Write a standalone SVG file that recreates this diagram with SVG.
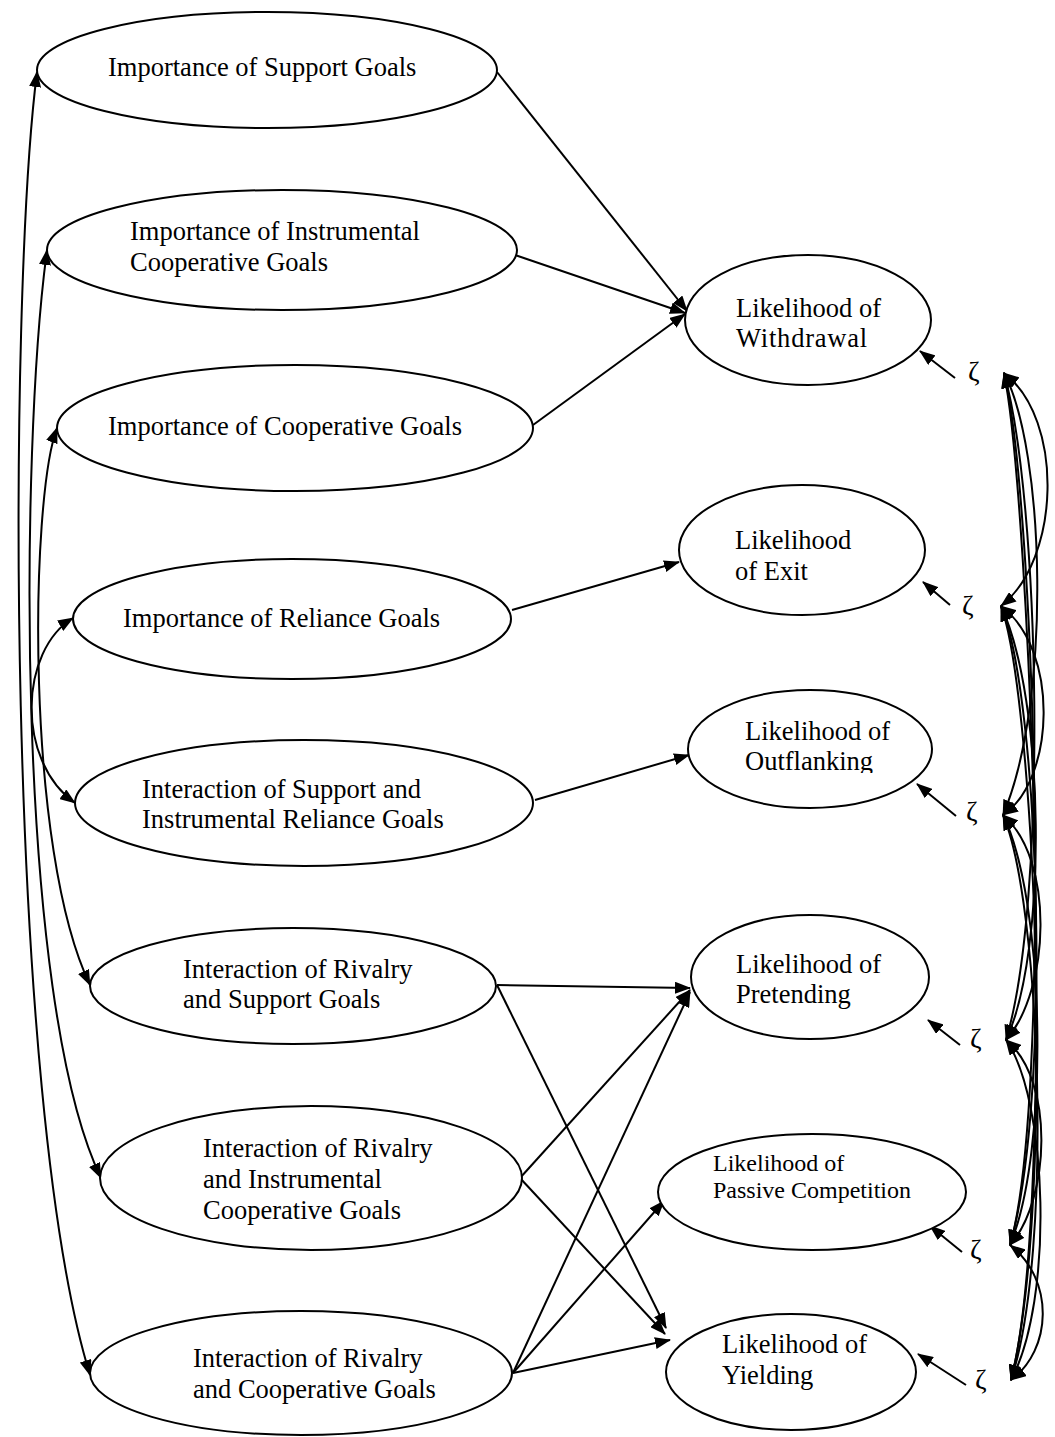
<svg xmlns="http://www.w3.org/2000/svg" width="1055" height="1437" viewBox="0 0 1055 1437">
<style>
.n{fill:#fff;stroke:#000;stroke-width:2}
.t{font-family:"Liberation Serif","Times New Roman",serif;font-size:26.5px;fill:#000}
.ts{font-family:"Liberation Serif","Times New Roman",serif;font-size:24px;fill:#000}
.z{font-family:"Liberation Serif","DejaVu Serif",serif;font-size:28px;fill:#000}
.c{fill:none;stroke:#000;stroke-width:2}
.a{marker-end:url(#ah)}
.d{marker-start:url(#ah);marker-end:url(#ah)}
</style>
<defs>
<marker id="ah" viewBox="0 0 16 12" refX="15" refY="6" markerWidth="16" markerHeight="12" markerUnits="userSpaceOnUse" orient="auto-start-reverse">
<path d="M0,0 L16,6 L0,12 z" fill="#000"/>
</marker>
<clipPath id="cpO"><rect x="700" y="700" width="220" height="73"/></clipPath>
<clipPath id="cpP"><rect x="700" y="930" width="220" height="79"/></clipPath>
</defs>
<g id="connectors">
<!-- left covariances -->
<path class="c d" d="M37,72 C8,300 5,1100 90,1375"/>
<path class="c d" d="M47,250 C20,450 15,1000 101,1178"/>
<path class="c d" d="M57,428 C30,500 25,850 90,985"/>
<path class="c d" d="M73,618 C20,650 15,760 75,803"/>
<!-- paths -->
<line class="c a" x1="497" y1="72" x2="687" y2="311"/>
<line class="c a" x1="515" y1="255" x2="685" y2="313"/>
<line class="c a" x1="533" y1="425" x2="685" y2="314"/>
<line class="c a" x1="512" y1="610" x2="679" y2="562"/>
<line class="c a" x1="535" y1="800" x2="689" y2="755"/>
<line class="c a" x1="497" y1="985" x2="690" y2="988"/>
<line class="c a" x1="497" y1="985" x2="666" y2="1328"/>
<line class="c a" x1="520" y1="1178" x2="690" y2="990"/>
<line class="c a" x1="520" y1="1178" x2="665" y2="1334"/>
<line class="c a" x1="513" y1="1373" x2="690" y2="992"/>
<line class="c a" x1="513" y1="1373" x2="664" y2="1201"/>
<line class="c a" x1="513" y1="1373" x2="670" y2="1340"/>
<!-- disturbances -->
<line class="c a" x1="955" y1="378" x2="920" y2="351"/>
<line class="c a" x1="950" y1="605" x2="923" y2="582"/>
<line class="c a" x1="956" y1="816" x2="917" y2="784"/>
<line class="c a" x1="960" y1="1045" x2="928" y2="1020"/>
<line class="c a" x1="962" y1="1252" x2="930" y2="1226"/>
<line class="c a" x1="966" y1="1385" x2="918" y2="1354"/>
<!-- right covariances -->
<path class="c d" d="M1004,373 C1065,420 1060,560 1001,606"/>
<path class="c d" d="M1004,373 C1045,450 1052,700 1003,815"/>
<path class="c d" d="M1004,373 C1040,500 1048,900 1006,1040"/>
<path class="c d" d="M1004,373 C1035,500 1052,1100 1010,1245"/>
<path class="c d" d="M1004,373 C1030,500 1058,1200 1011,1380"/>
<path class="c d" d="M1001,606 C1060,650 1055,780 1003,815"/>
<path class="c d" d="M1001,606 C1045,700 1048,950 1006,1040"/>
<path class="c d" d="M1001,606 C1040,700 1052,1100 1010,1245"/>
<path class="c d" d="M1001,606 C1035,700 1056,1200 1011,1380"/>
<path class="c d" d="M1003,815 C1055,860 1050,990 1006,1040"/>
<path class="c d" d="M1003,815 C1045,900 1050,1150 1010,1245"/>
<path class="c d" d="M1003,815 C1040,900 1054,1250 1011,1380"/>
<path class="c d" d="M1006,1040 C1055,1080 1050,1200 1010,1245"/>
<path class="c d" d="M1006,1040 C1048,1100 1054,1300 1011,1380"/>
<path class="c d" d="M1010,1245 C1055,1280 1052,1350 1011,1380"/>
</g>
<g id="n1"><ellipse class="n" cx="267" cy="70" rx="230" ry="58"/><text class="t" x="108" y="76">Importance of Support Goals</text></g>
<g id="n2"><ellipse class="n" cx="282" cy="250" rx="235" ry="60"/><text class="t" x="130" y="240">Importance of Instrumental</text><text class="t" x="130" y="271">Cooperative Goals</text></g>
<g id="n3"><ellipse class="n" cx="295" cy="428" rx="238" ry="63"/><text class="t" x="108" y="435">Importance of Cooperative Goals</text></g>
<g id="n4"><ellipse class="n" cx="292" cy="619" rx="219" ry="60"/><text class="t" x="123" y="627">Importance of Reliance Goals</text></g>
<g id="n5"><ellipse class="n" cx="304" cy="803" rx="229" ry="63"/><text class="t" x="142" y="798">Interaction of Support and</text><text class="t" x="142" y="828">Instrumental Reliance Goals</text></g>
<g id="n6"><ellipse class="n" cx="293" cy="986" rx="203" ry="58"/><text class="t" x="183" y="978">Interaction of Rivalry</text><text class="t" x="183" y="1008">and Support Goals</text></g>
<g id="n7"><ellipse class="n" cx="311" cy="1178" rx="211" ry="72"/><text class="t" x="203" y="1157">Interaction of Rivalry</text><text class="t" x="203" y="1188">and Instrumental</text><text class="t" x="203" y="1219">Cooperative Goals</text></g>
<g id="n8"><ellipse class="n" cx="301" cy="1373" rx="211" ry="62"/><text class="t" x="193" y="1367">Interaction of Rivalry</text><text class="t" x="193" y="1398">and Cooperative Goals</text></g>
<g id="w"><ellipse class="n" cx="808" cy="320" rx="123" ry="65"/><text class="t" x="736" y="317">Likelihood of</text><text class="t" x="736" y="347" letter-spacing="0.8">Withdrawal</text></g>
<g id="x"><ellipse class="n" cx="802" cy="550" rx="123" ry="65"/><text class="t" x="735" y="549">Likelihood</text><text class="t" x="735" y="580">of Exit</text></g>
<g id="o"><ellipse class="n" cx="810" cy="749" rx="122" ry="59"/><text class="t" x="745" y="740">Likelihood of</text><text class="t" x="745" y="770" clip-path="url(#cpO)">Outflanking</text></g>
<g id="p"><ellipse class="n" cx="810" cy="977" rx="119" ry="62"/><text class="t" x="736" y="973">Likelihood of</text><text class="t" x="736" y="1003" clip-path="url(#cpP)">Pretending</text></g>
<g id="pc"><ellipse class="n" cx="812" cy="1192" rx="154" ry="58"/><text class="ts" x="713" y="1171">Likelihood of</text><text class="ts" x="713" y="1198">Passive Competition</text></g>
<g id="y"><ellipse class="n" cx="791" cy="1372" rx="125" ry="58"/><text class="t" x="722" y="1353">Likelihood of</text><text class="t" x="722" y="1384">Yielding</text></g>
<g id="zetas">
<text class="z" x="968" y="381">ζ</text>
<text class="z" x="962" y="615">ζ</text>
<text class="z" x="966" y="821">ζ</text>
<text class="z" x="970" y="1048">ζ</text>
<text class="z" x="970" y="1259">ζ</text>
<text class="z" x="975" y="1389">ζ</text>
</g>
</svg>
